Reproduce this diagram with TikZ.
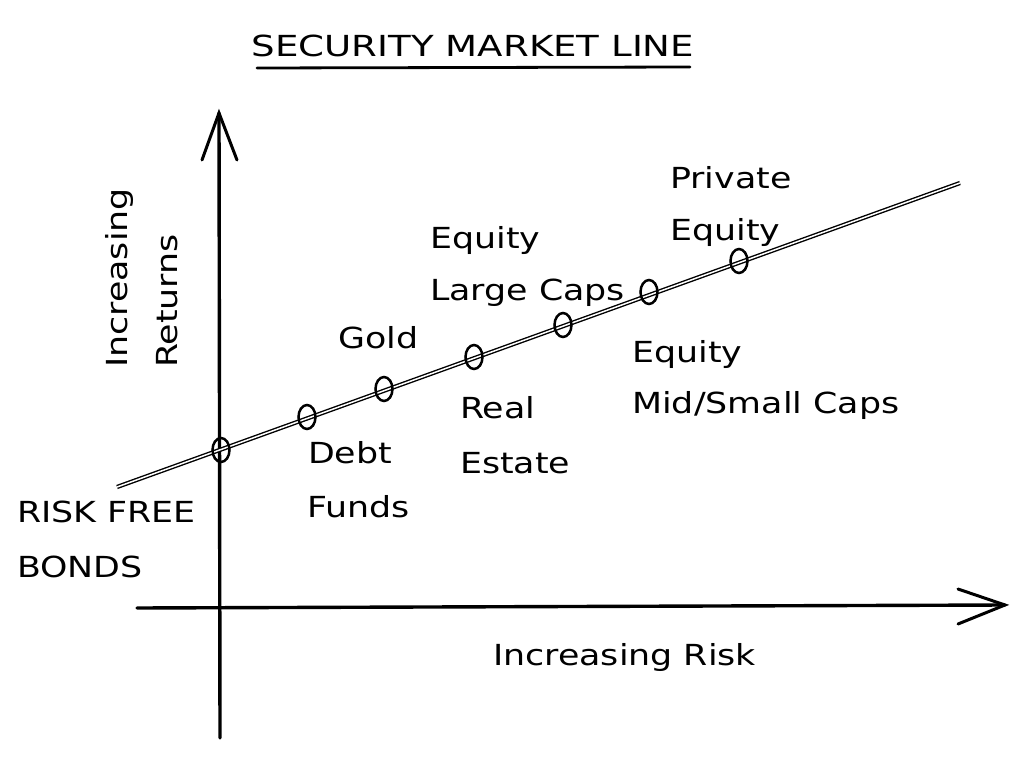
\documentclass[tikz,border=0pt]{standalone}
\usepackage{fontspec}
\setmainfont[FakeStretch=1.2]{DejaVu Sans}
\newfontfamily\titlefont[FakeStretch=1.28]{DejaVu Sans}
\usetikzlibrary{shapes.geometric}
\begin{document}
\begin{tikzpicture}[x=1pt,y=-1pt,
  lbl/.style={anchor=base west,inner sep=0pt,font=\fontsize{29}{32}\selectfont},
  axisline/.style={line width=3.4pt,line cap=round},
  tipline/.style={line width=3pt,line cap=round},
  smlline/.style={double,line width=1.4pt,double distance=1.5pt},
  dotmark/.style={draw,ellipse,line width=2.5pt,minimum width=17pt,minimum height=24pt,inner sep=0pt}]
\useasboundingbox[fill=white] (0,0) rectangle (1023,757);
% title
\node[lbl,anchor=base,font=\titlefont\fontsize{29}{32}\selectfont] (title) at (473,57) {SECURITY MARKET LINE};
\coordinate (ul1) at (257,68);
\coordinate (ul2) at (690,67);
\draw[line width=2.8pt,line cap=round] (ul1) -- (ul2);
% axes
\coordinate (yb) at (220,738);
\coordinate (yt) at (219,113);
\coordinate (yl) at (202,160);
\coordinate (yr) at (237,160);
\draw[axisline] (yb) -- (yt);
\draw[tipline] (yl) -- (yt) -- (yr);
\coordinate (xl) at (137,608);
\coordinate (xr) at (1005,605);
\coordinate (xu) at (958,589);
\coordinate (xd) at (958,624);
\draw[axisline] (xl) -- (xr);
\draw[tipline] (xu) -- (xr) -- (xd);
% security market line
\coordinate (s1) at (117,487);
\coordinate (s2) at (960,183);
\draw[smlline] (s1) -- (s2);
% points
\node[dotmark] (p1) at (221,450) {};
\node[dotmark] (p2) at (307,417) {};
\node[dotmark] (p3) at (384,389) {};
\node[dotmark] (p4) at (474,357) {};
\node[dotmark] (p5) at (563,325) {};
\node[dotmark] (p6) at (649,292) {};
\node[dotmark] (p7) at (739,261) {};
% labels
\node[lbl] (rf1) at (17,522) {RISK FREE};
\node[lbl] (rf2) at (17,577) {BONDS};
\node[lbl] (df1) at (308,463) {Debt};
\node[lbl] (df2) at (307,517) {Funds};
\node[lbl] (gold) at (338,348) {Gold};
\node[lbl] (re1) at (460,418) {Real};
\node[lbl] (re2) at (460,473) {Estate};
\node[lbl] (el1) at (430,248) {Equity};
\node[lbl] (el2) at (430,300) {Large Caps};
\node[lbl] (em1) at (632,362) {Equity};
\node[lbl] (em2) at (632,413) {Mid/Small Caps};
\node[lbl] (pe1) at (670,188) {Private};
\node[lbl] (pe2) at (670,240) {Equity};
\node[lbl] (xlab) at (493,665) {Increasing Risk};
\node[lbl,rotate=90] (ylab1) at (127,368) {Increasing};
\node[lbl,rotate=90] (ylab2) at (177,368) {Returns};
\end{tikzpicture}
\end{document}
